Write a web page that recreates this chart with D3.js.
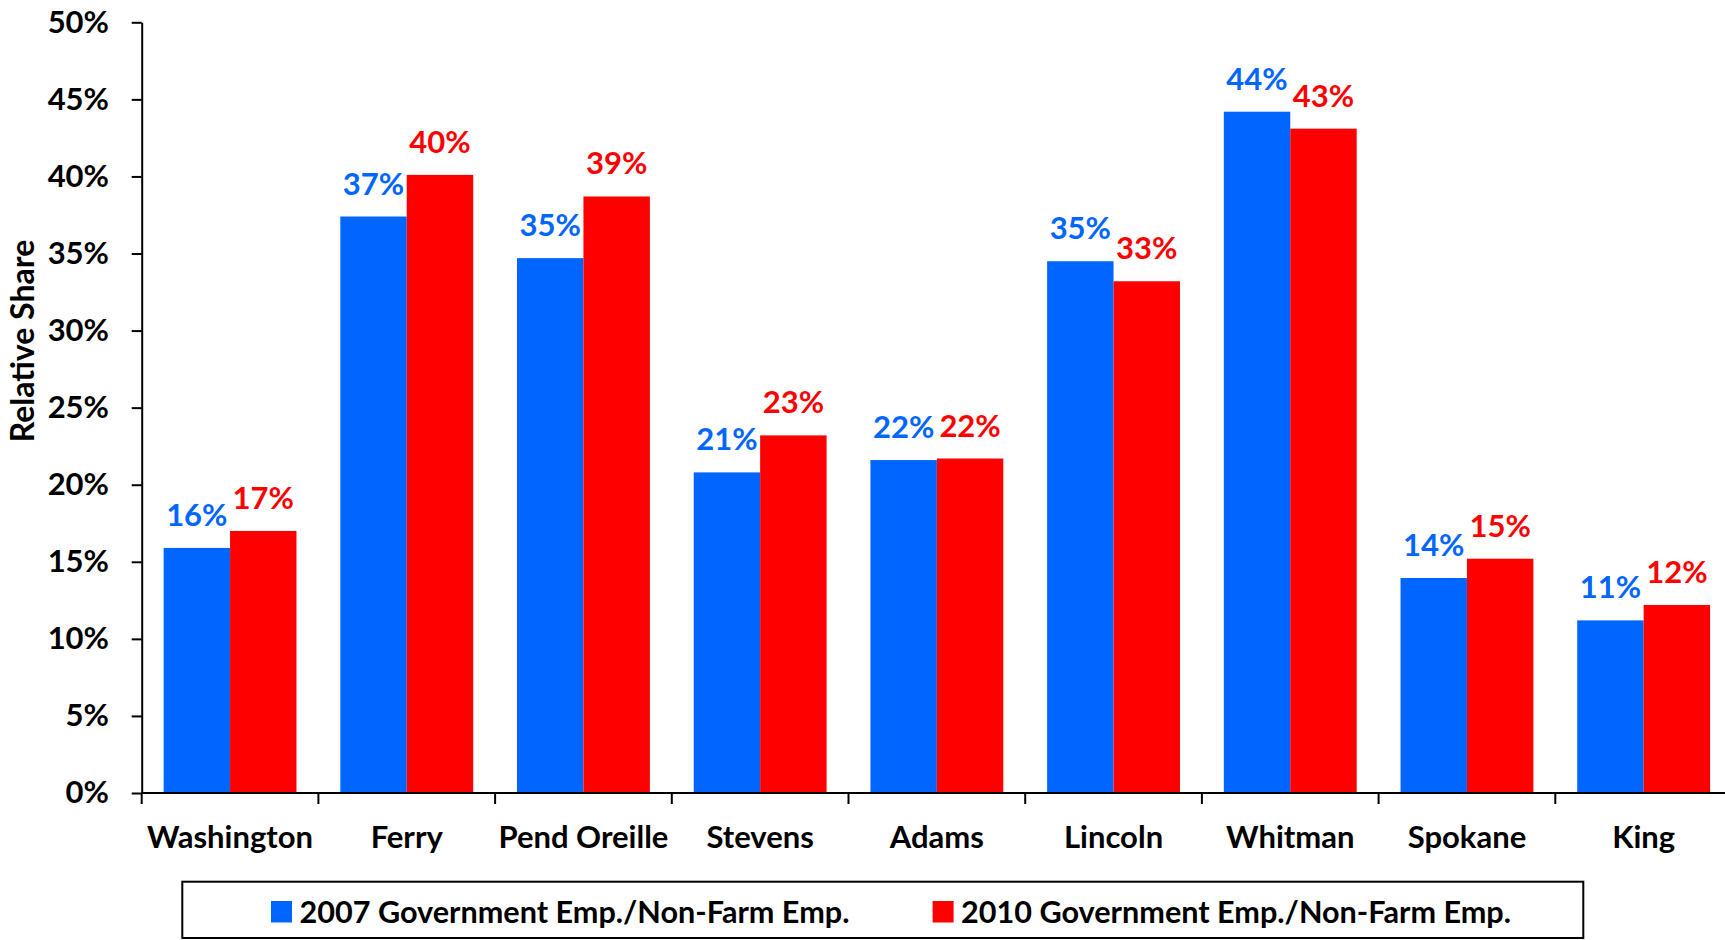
<!DOCTYPE html>
<html><head><meta charset="utf-8">
<script src="https://cdn.jsdelivr.net/npm/d3@7"></script>
<style>
body{margin:0;background:#fff;}
svg{display:block;}
text{font-family:Lato, "Open Sans", sans-serif;font-weight:700;}
</style>
</head><body>
<svg id="c" width="1725" height="940"></svg>
<script>
const categories = ["Washington","Ferry","Pend Oreille","Stevens","Adams","Lincoln","Whitman","Spokane","King"];
const seriesNames = ["2007 Government Emp./Non-Farm Emp.","2010 Government Emp./Non-Farm Emp."];
const values2007 = [15.9,37.4,34.7,20.8,21.6,34.5,44.2,13.95,11.2];
const values2010 = [17.0,40.1,38.7,23.2,21.7,33.2,43.1,15.2,12.2];
const seriesColors = ["#0066FF","#FF0000"];
const yTicks = [0,5,10,15,20,25,30,35,40,45,50];
const yTitle = "Relative Share";

const svg = d3.select("#c");
const FS = 31;

const x0 = d3.scaleBand().domain(categories).range([141.7, 1732]).paddingInner(0).paddingOuter(0);
const x1 = d3.scaleBand().domain(seriesNames).range([0, x0.bandwidth()]).paddingInner(0).paddingOuter(0.33);
const y = d3.scaleLinear().domain([0, 50]).range([793, 22.3]);

const seriesValues = [values2007, values2010];
const rows = [];
categories.forEach((c, i) => {
  seriesNames.forEach((s, j) => rows.push({c, s, v: seriesValues[j][i], color: seriesColors[j]}));
});

// bars
svg.append("g").selectAll("rect").data(rows).join("rect")
  .attr("x", d => x0(d.c) + x1(d.s))
  .attr("width", x1.bandwidth())
  .attr("y", d => y(d.v))
  .attr("height", d => y(0) - y(d.v))
  .attr("fill", d => d.color);

// data labels
svg.append("g").selectAll("text").data(rows).join("text")
  .attr("x", d => x0(d.c) + x1(d.s) + x1.bandwidth() / 2)
  .attr("y", d => y(d.v) - 22)
  .attr("text-anchor", "middle")
  .attr("font-size", FS)
  .attr("fill", d => d.color)
  .text(d => Math.round(d.v) + "%");

// y axis
const gy = svg.append("g").attr("transform", "translate(141.7,0)")
  .call(d3.axisLeft(y).tickValues(yTicks).tickSize(10).tickSizeOuter(0).tickPadding(22.7).tickFormat(d => d + "%"));
gy.select(".domain").attr("stroke", "#000").attr("stroke-width", 2);
gy.selectAll(".tick line").attr("stroke", "#000").attr("stroke-width", 2);
gy.selectAll(".tick text").attr("font-size", FS).attr("fill", "#000").attr("font-family", null);

// x axis
const gx = svg.append("g").attr("transform", "translate(0,793)")
  .call(d3.axisBottom(x0).tickSize(0).tickSizeOuter(0).tickPadding(0));
gx.select(".domain").attr("d", "M141.7,0H1725").attr("stroke", "#000").attr("stroke-width", 2);
gx.selectAll(".tick text").attr("font-size", FS).attr("fill", "#000").attr("font-family", null)
  .attr("y", 55).attr("dy", 0);
// boundary ticks
const bounds = categories.map(c => x0(c)).concat([x0.range()[1]]);
gx.append("g").selectAll("line").data(bounds).join("line")
  .attr("x1", d => d).attr("x2", d => d).attr("y1", 0).attr("y2", 11)
  .attr("stroke", "#000").attr("stroke-width", 2);

// y title
svg.append("text")
  .attr("transform", "translate(34,341) rotate(-90)")
  .attr("text-anchor", "middle")
  .attr("font-size", 32)
  .attr("fill", "#000")
  .text(yTitle);

// legend
const lg = svg.append("g");
lg.append("rect").attr("x", 182.3).attr("y", 881.7).attr("width", 1401).attr("height", 56.3)
  .attr("fill", "#fff").attr("stroke", "#000").attr("stroke-width", 2);
const legendX = [271, 932.6];
seriesNames.forEach((s, j) => {
  lg.append("rect").attr("x", legendX[j]).attr("y", 901).attr("width", 21).attr("height", 21.5).attr("fill", seriesColors[j]);
  lg.append("text").attr("x", legendX[j] + 28.5).attr("y", 922.5).attr("font-size", 30.6).attr("fill", "#000").text(s);
});
</script>
</body></html>
